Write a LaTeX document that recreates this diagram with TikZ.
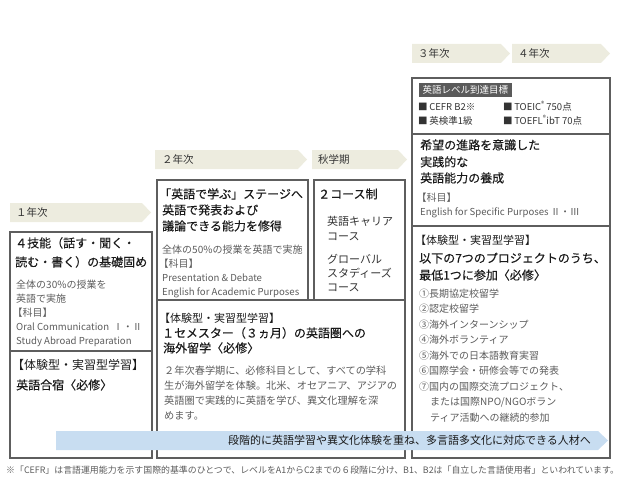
\documentclass[tikz,border=0pt]{standalone}
\usepackage{fontspec}
\setmainfont{Noto Sans CJK JP}
\newfontfamily\hfont[FakeBold=0.3]{Noto Sans CJK JP}
\definecolor{banc}{HTML}{EDECDF}
\definecolor{boxc}{HTML}{5E5E5E}
\definecolor{headc}{HTML}{1A1A1A}
\definecolor{bodyc}{HTML}{5C5C5C}
\definecolor{darkc}{HTML}{333333}
\definecolor{arrc}{HTML}{C8DDF1}
\definecolor{tagc}{HTML}{5A5A5A}
\begin{document}
\begin{tikzpicture}[x=1pt,y=-1pt,
  banner/.style={fill=banc, draw=none},
  frame/.style={draw=boxc, line width=1.1pt, inner sep=0pt, outer sep=0pt, anchor=north west},
  sepline/.style={draw=boxc, line width=1.1pt},
  yr/.style={anchor=base west, inner sep=0pt, text=darkc, font=\fontsize{10.5}{12}\selectfont},
  head/.style={anchor=base west, inner sep=0pt, text=headc, font=\hfont\fontsize{12}{14}\selectfont},
  tagline/.style={anchor=base west, inner sep=0pt, text=headc, font=\fontsize{11}{13}\selectfont},
  body/.style={anchor=base west, inner sep=0pt, text=bodyc, font=\fontsize{10}{12}\selectfont},
  latin/.style={anchor=base west, inner sep=0pt, text=bodyc, font=\fontsize{9.6}{12}\selectfont},
  course/.style={anchor=base west, inner sep=0pt, text=darkc, font=\fontsize{11}{13}\selectfont},
  lvl/.style={anchor=base west, inner sep=0pt, text=darkc, font=\fontsize{9.5}{11}\selectfont},
]
\useasboundingbox (0,0) rectangle (620,500);

% ---------- banners ----------
\fill[banner] (10,203) -- (142,203) -- (151,212.5) -- (142,222) -- (10,222) -- cycle;
\fill[banner] (155,150) -- (298,150) -- (307,159.5) -- (298,169) -- (155,169) -- cycle;
\fill[banner] (312,150) -- (398,150) -- (407,159.5) -- (398,169) -- (312,169) -- cycle;
\fill[banner] (412,44) -- (501,44) -- (510,53.5) -- (501,63) -- (412,63) -- cycle;
\fill[banner] (512,44) -- (601,44) -- (610,53.5) -- (601,63) -- (512,63) -- cycle;

\node[yr] (y1) at (16,216.5) {１年次};
\node[yr] (y2) at (162,163.5) {２年次};
\node[yr] (ya) at (318,163.5) {秋学期};
\node[yr] (y3) at (418,57.5) {３年次};
\node[yr] (y4) at (518,57.5) {４年次};

% ---------- frames ----------
\node[frame, minimum width=142pt, minimum height=226pt] (col1) at (10,232) {};
\draw[sepline] (10,351) -- (152,351);
\node[frame, minimum width=151pt, minimum height=120pt] (m2) at (157,180) {};
\node[frame, minimum width=91pt, minimum height=120pt] (ma) at (314,180) {};
\node[frame, minimum width=248pt, minimum height=158pt] (mlow) at (157,300) {};
\node[frame, minimum width=198pt, minimum height=380pt] (col3) at (412,78) {};
\draw[sepline] (412,134) -- (610,134);
\draw[sepline] (412,226) -- (610,226);

% ---------- column 1 ----------
\node[head] (c1h1) at (15,247.5) {４技能（話す・聞く・};
\node[head] (c1h2) at (15,266.5) {読む・書く）の基礎固め};
\node[body] (c1b1) at (16,288) {全体の30\%の授業を};
\node[body] (c1b2) at (16,302) {英語で実施};
\node[body] (c1b3) at (12.5,316) {【科目】};
\node[latin] (c1b4) at (16,330) {Oral Communication\ \ Ⅰ・Ⅱ};
\node[latin] (c1b5) at (16,344) {Study Abroad Preparation};
\node[tagline, font=\fontsize{12}{14}\selectfont] (c1t1) at (12,369.5) {【体験型・実習型学習】};
\node[head] (c1t2) at (16,389.5) {英語合宿〈必修〉};

% ---------- 2nd year ----------
\node[head] (c2h1) at (159,198.5) {「英語で学ぶ」ステージへ};
\node[head] (c2h2) at (162,214.5) {英語で発表および};
\node[head] (c2h3) at (162,230.5) {議論できる能力を修得};
\node[body] (c2b1) at (162,253.5) {全体の50\%の授業を英語で実施};
\node[body] (c2b2) at (158.5,267.5) {【科目】};
\node[latin] (c2b3) at (162,281.5) {Presentation \& Debate};
\node[latin] (c2b4) at (162,295.5) {English for Academic Purposes};

% ---------- autumn ----------
\node[head] (cah) at (318,198.5) {２コース制};
\node[course] (ca1) at (327,225) {英語キャリア};
\node[course] (ca2) at (327,240) {コース};
\node[course] (ca3) at (327,263) {グローバル};
\node[course] (ca4) at (327,277) {スタディーズ};
\node[course] (ca5) at (327,291) {コース};

% ---------- study abroad ----------
\node[tagline] (sat) at (159,322) {【体験型・実習型学習】};
\node[head] (sah1) at (162,337.5) {１セメスター（３ヵ月）の英語圏への};
\node[head] (sah2) at (163,352.5) {海外留学〈必修〉};
\begin{scope}[every node/.style={anchor=base west, inner sep=0pt, text=bodyc, font=\fontsize{10.2}{12}\selectfont}]
\node (sap1) at (164,374) {２年次春学期に、必修科目として、すべての学科};
\node (sap2) at (164,389) {生が海外留学を体験。北米、オセアニア、アジアの};
\node (sap3) at (164,404) {英語圏で実践的に英語を学び、異文化理解を深};
\node (sap4) at (164,419) {めます。};
\end{scope}

% ---------- 3rd / 4th year ----------
\node[fill=tagc, text=white, font=\fontsize{9.5}{11}\selectfont, inner xsep=3.5pt, inner ysep=0pt,
      minimum height=14pt, anchor=north west] (goal) at (419,83) {英語レベル到達目標};
\node[lvl] (g1) at (418,110.5) {■\,CEFR B2※};
\node[lvl] (g2) at (503,110.5) {■\,TOEIC\textsuperscript{®}\,750点};
\node[lvl] (g3) at (418,124.5) {■\,英検準1級};
\node[lvl] (g4) at (503,124.5) {■\,TOEFL\textsuperscript{®}ibT 70点};

\node[head] (c3h1) at (420,149.5) {希望の進路を意識した};
\node[head] (c3h2) at (420,166.5) {実践的な};
\node[head] (c3h3) at (420,182.5) {英語能力の養成};
\node[body] (c3b1) at (416.5,201.8) {【科目】};
\node[latin] (c3b2) at (420,215.8) {English for Specific Purposes Ⅱ・Ⅲ};

\node[tagline] (c3t) at (415,244.2) {【体験型・実習型学習】};
\node[head] (c3t1) at (419,262.6) {以下の7つのプロジェクトのうち、};
\node[head] (c3t2) at (419,279.6) {最低1つに参加〈必修〉};
\node[body] (p1) at (419,297) {①長期協定校留学};
\node[body] (p2) at (419,312.5) {②認定校留学};
\node[body] (p3) at (419,328) {③海外インターンシップ};
\node[body] (p4) at (419,343.5) {④海外ボランティア};
\node[body] (p5) at (419,359) {⑤海外での日本語教育実習};
\node[body] (p6) at (419,374.5) {⑥国際学会・研修会等での発表};
\node[body] (p7) at (419,390) {⑦国内の国際交流プロジェクト、};
\node[body] (p7b) at (430,405.5) {または国際NPO/NGOボラン};
\node[body] (p7c) at (430,421) {ティア活動への継続的参加};

% ---------- bottom arrow ----------
\fill[arrc] (56,431) -- (598,431) -- (608,440.5) -- (598,450) -- (56,450) -- cycle;
\node[anchor=base east, inner sep=0pt, text=headc, font=\fontsize{11}{13}\selectfont] (goalline) at (591,444.7)
  {段階的に英語学習や異文化体験を重ね、多言語多文化に対応できる人材へ};

% ---------- footnote ----------
\node[anchor=base west, inner sep=0pt, text=bodyc, font=\fontsize{8.9}{10}\selectfont] (note) at (6,473)
  {※「CEFR」は言語運用能力を示す国際的基準のひとつで、レベルをA1からC2までの６段階に分け、B1、B2は「自立した言語使用者」といわれています。};
\end{tikzpicture}
\end{document}
